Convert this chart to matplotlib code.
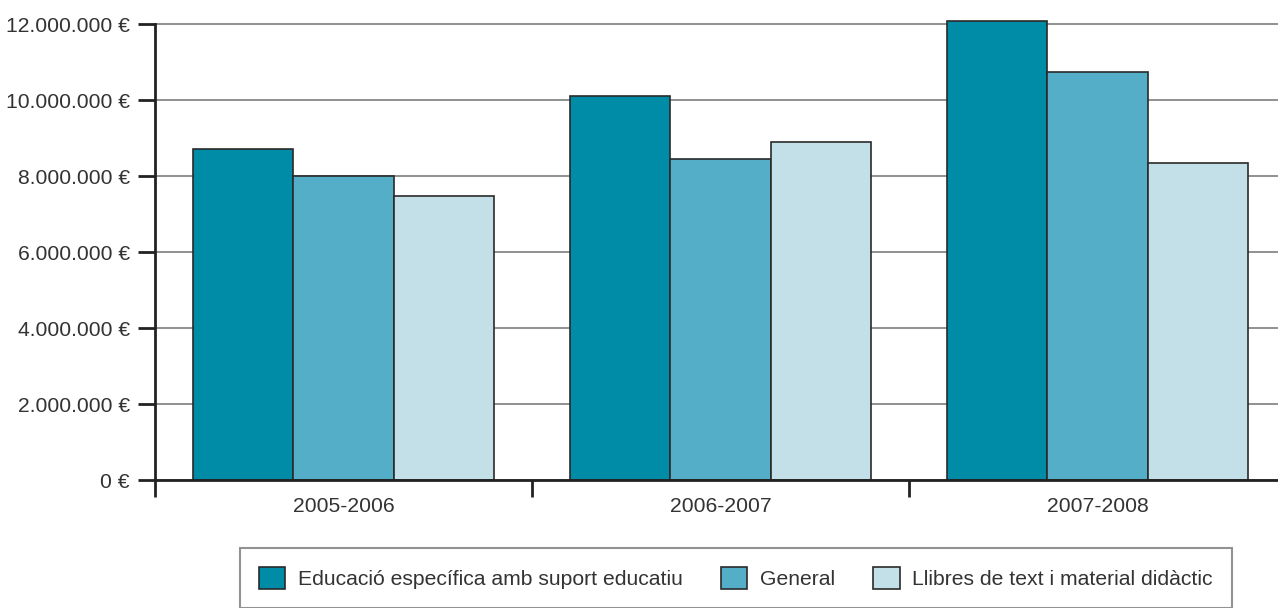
import matplotlib.pyplot as plt
from matplotlib.patches import Patch
from matplotlib.ticker import FuncFormatter, FixedLocator
import numpy as np

years = ['2005-2006', '2006-2007', '2007-2008']
series_names = ['Educació específica amb suport educatiu', 'General',
                'Llibres de text i material didàctic']
educacio = [8710000, 10100000, 12070000]
general = [8000000, 8460000, 10730000]
llibres = [7470000, 8890000, 8350000]
colors = ['#008ba7', '#55aec7', '#c3dfe7']

plt.rcParams['font.family'] = ['Liberation Sans', 'DejaVu Sans']
plt.rcParams['text.color'] = '#333333'

fig = plt.figure(figsize=(12.78, 6.08), dpi=100)
ax = fig.add_axes([155 / 1278, 1 - 480 / 608, 1123 / 1278, 478.8 / 608])

x = np.arange(len(years))
w = 0.8 / 3
for i, vals in enumerate([educacio, general, llibres]):
    ax.bar(x + (i - 1) * w, vals, w, color=colors[i], edgecolor='#2a2a2a',
           linewidth=1.2, zorder=3)

ax.set_xlim(-0.5, 2.479)
ax.set_ylim(0, 12600000)

ax.set_yticks(np.arange(0, 12000001, 2000000))
ax.yaxis.set_major_formatter(FuncFormatter(lambda v, p: f"{v:,.0f} €".replace(",", ".")))
ax.yaxis.grid(True, color='#888888', linewidth=1.3, zorder=0)
ax.tick_params(axis='y', direction='out', length=12, width=2, color='#222222',
               labelsize=15.2, labelcolor='#333333', pad=6)

ax.xaxis.set_major_locator(FixedLocator([-0.5, 0.5, 1.5, 2.5]))
ax.xaxis.set_major_formatter(FuncFormatter(lambda v, p: ''))
ax.set_xticks(x, minor=True)
ax.set_xticklabels(years, minor=True)
ax.tick_params(axis='x', which='major', direction='out', length=12, width=2, color='#222222')
ax.tick_params(axis='x', which='minor', length=0, labelsize=15.2, labelcolor='#333333', pad=12)

for s in ['top', 'right']:
    ax.spines[s].set_visible(False)
ax.spines['left'].set_bounds(0, 12000000)
for s in ['left', 'bottom']:
    ax.spines[s].set_linewidth(2)
    ax.spines[s].set_color('#222222')
    ax.spines[s].set_zorder(4)

handles = [Patch(facecolor=c, edgecolor='#2a2a2a', linewidth=1.2) for c in colors]
leg = fig.legend(handles, series_names, loc='upper left',
                 bbox_to_anchor=(240 / 1278, 1 - 548 / 608), ncol=3,
                 fontsize=15.2, frameon=True, fancybox=False, borderpad=0.9,
                 handlelength=1.25, handleheight=1.25, handletextpad=0.6,
                 columnspacing=1.8, borderaxespad=0)
leg.get_frame().set_edgecolor('#777777')
leg.get_frame().set_linewidth(1.5)

fig.savefig('out.png', dpi=100)
